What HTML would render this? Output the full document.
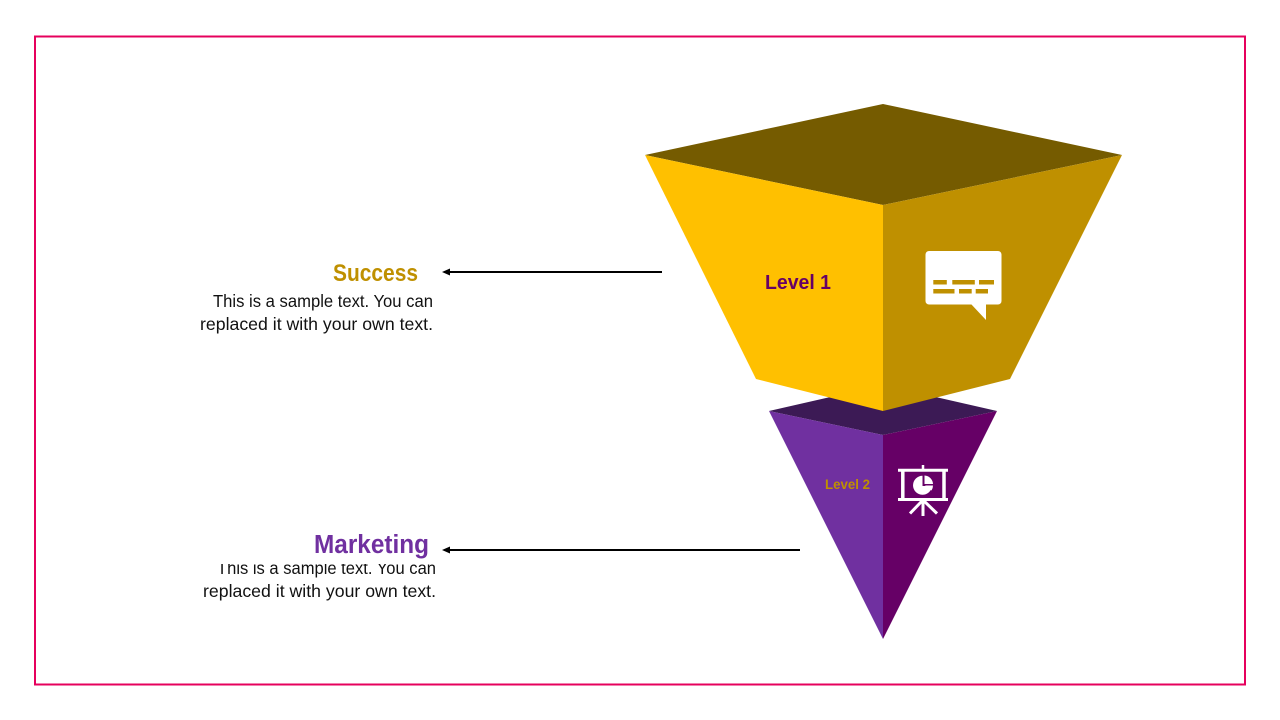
<!DOCTYPE html>
<html>
<head>
<meta charset="utf-8">
<style>
html,body{margin:0;padding:0;background:#fff;width:1280px;height:720px;overflow:hidden}
svg{display:block}
text{font-family:"Liberation Sans",Carlito,sans-serif}
</style>
</head>
<body>
<svg width="1280" height="720" viewBox="0 0 1280 720" xmlns="http://www.w3.org/2000/svg">
<rect width="1280" height="720" fill="#fff"/>
<rect x="35" y="36.500" width="1210" height="648" fill="none" stroke="#E6005C" stroke-width="2"/>

<!-- Lower pyramid -->
<polygon points="769,411 883,385 997,411 883,435" fill="#3C1A55"/>
<polygon points="769,411 883,435 883,639" fill="#7030A0"/>
<polygon points="997,411 883,435 883,639" fill="#660066"/>

<!-- Upper frustum -->
<polygon points="645,155 883,104 1122,155 883,205" fill="#755B00"/>
<polygon points="645,155 883,205 883,411 756,379" fill="#FFC000"/>
<polygon points="1122,155 883,205 883,411 1010,379" fill="#BF9000"/>

<!-- Level labels -->
<text x="765" y="289" font-size="20.500" font-weight="700" fill="#660066" textLength="66" lengthAdjust="spacingAndGlyphs">Level 1</text>
<text x="825" y="489" font-size="13.500" font-weight="700" fill="#BF9000" textLength="45" lengthAdjust="spacingAndGlyphs">Level 2</text>

<!-- Chat icon -->
<rect x="925.500" y="251" width="76" height="53.500" rx="3.500" fill="#fff"/>
<polygon points="971,304 986,304 986,320" fill="#fff"/>
<g fill="#BF9000">
<rect x="933.300" y="280" width="13.500" height="4.500"/>
<rect x="952.300" y="280" width="22.500" height="4.500"/>
<rect x="979" y="280" width="15" height="4.500"/>
<rect x="933.300" y="289" width="21.200" height="4.500"/>
<rect x="959" y="289" width="12.700" height="4.500"/>
<rect x="975.700" y="289" width="12.300" height="4.500"/>
</g>

<!-- Presentation icon -->
<g fill="none" stroke="#fff">
<line x1="898" y1="470.300" x2="948" y2="470.300" stroke-width="3"/>
<line x1="923" y1="465" x2="923" y2="469" stroke-width="2.500"/>
<line x1="902.800" y1="470" x2="902.800" y2="499" stroke-width="3.500"/>
<line x1="944" y1="470" x2="944" y2="499" stroke-width="3.500"/>
<line x1="898" y1="499.500" x2="948" y2="499.500" stroke-width="3"/>
<line x1="923" y1="500" x2="923" y2="516" stroke-width="3"/>
<line x1="922" y1="501" x2="910" y2="513.500" stroke-width="3"/>
<line x1="924" y1="501" x2="937" y2="513.500" stroke-width="3"/>
</g>
<path d="M922.500,475.800 V486 H932 A9.500,9.500 0 1 1 922.500,475.800 Z" fill="#fff"/>
<path d="M924.500,475.500 A9,9 0 0 1 933,484 L924.500,484 Z" fill="#fff"/>
<path d="M925,485.500 L933,485.500 A9,9 0 0 1 931.500,490.500 Z" fill="#fff"/>

<!-- Arrows -->
<line x1="662" y1="272" x2="448" y2="272" stroke="#000" stroke-width="2"/>
<polygon points="442,272 450,268.500 450,275.500" fill="#000"/>
<line x1="800" y1="550" x2="448" y2="550" stroke="#000" stroke-width="2"/>
<polygon points="442,550 450,546.500 450,553.500" fill="#000"/>

<!-- Success block -->
<text x="333" y="281" font-size="24" font-weight="700" fill="#BF9000" textLength="85" lengthAdjust="spacingAndGlyphs">Success</text>
<text x="213" y="307" font-size="17.500" fill="#111" textLength="220" lengthAdjust="spacingAndGlyphs">This is a sample text. You can</text>
<text x="200" y="330" font-size="17.500" fill="#111" textLength="233" lengthAdjust="spacingAndGlyphs">replaced it with your own text.</text>

<!-- Marketing block -->
<text x="217" y="574" font-size="17.500" fill="#111" textLength="219" lengthAdjust="spacingAndGlyphs">This is a sample text. You can</text>
<text x="203" y="597" font-size="17.500" fill="#111" textLength="233" lengthAdjust="spacingAndGlyphs">replaced it with your own text.</text>
<rect x="200" y="530" width="236" height="34" fill="#fff"/>
<text x="314" y="553" font-size="25.500" font-weight="700" fill="#7030A0" textLength="115" lengthAdjust="spacingAndGlyphs">Marketing</text>
</svg>
</body>
</html>
